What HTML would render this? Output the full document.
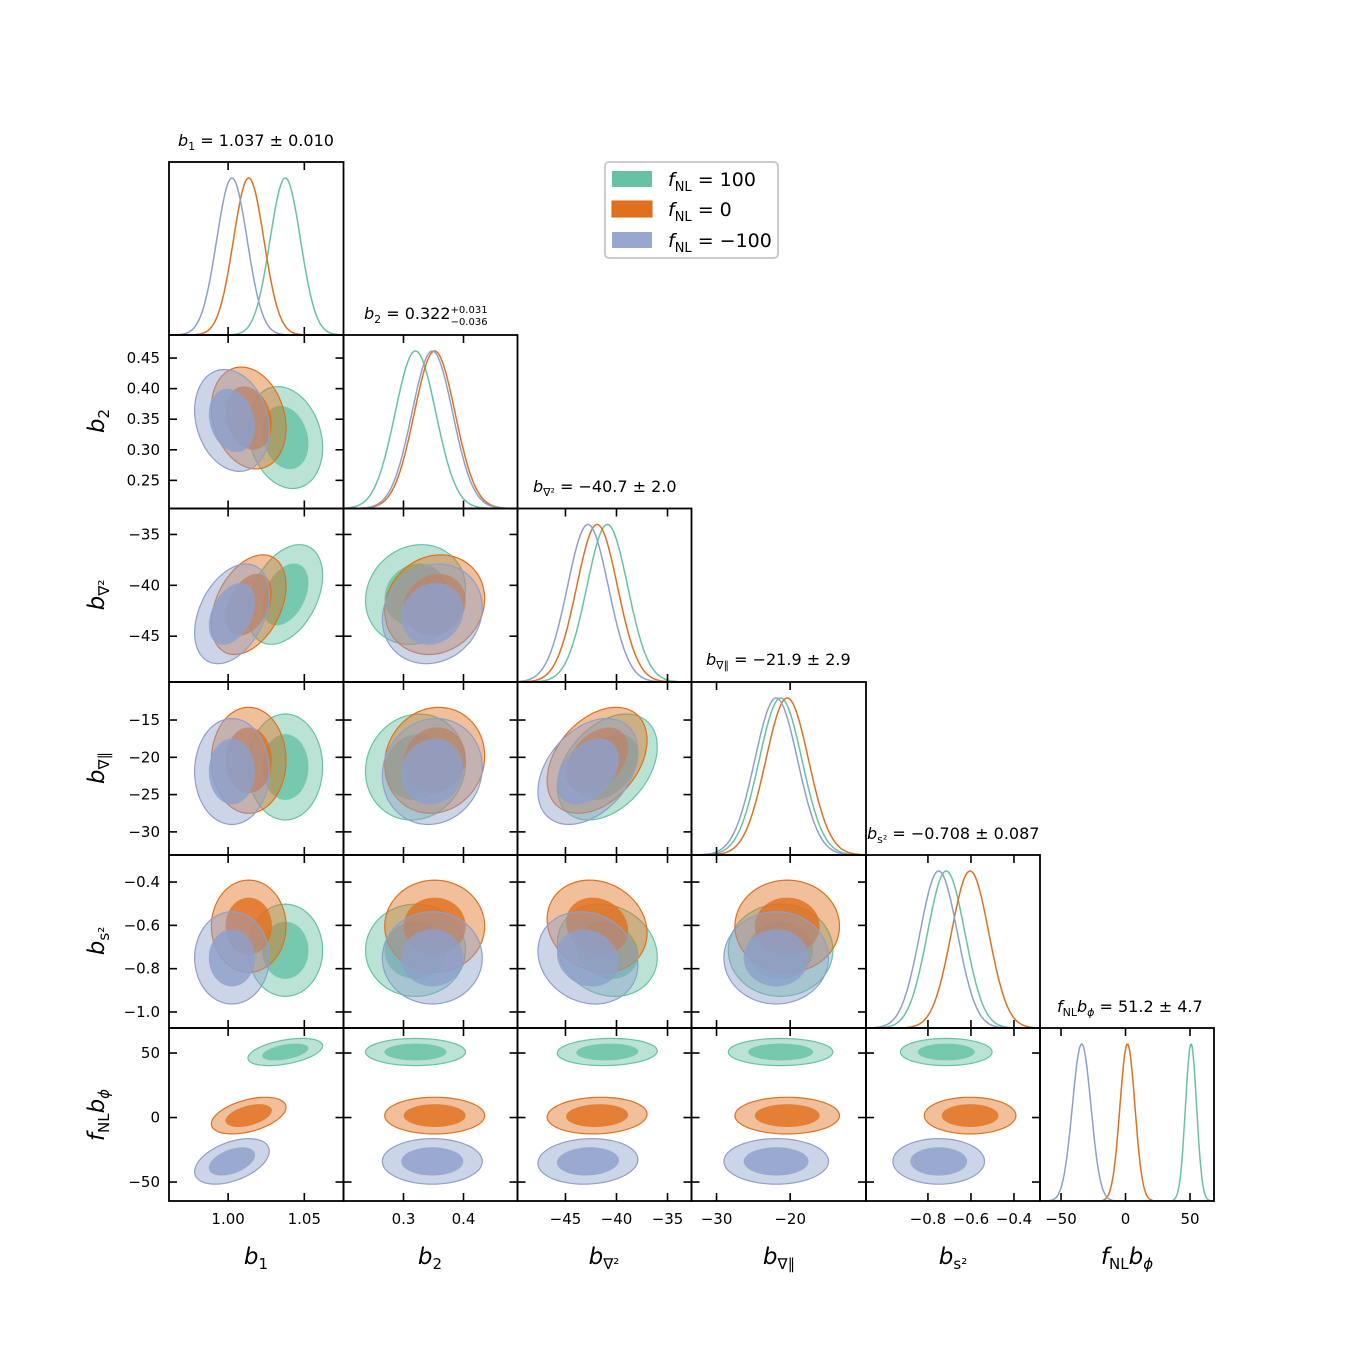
<!DOCTYPE html>
<html><head><meta charset="utf-8"><style>
html,body{margin:0;padding:0;background:#fff}
svg{display:block;font-family:"DejaVu Sans","Liberation Sans",sans-serif}
</style></head><body>
<svg id="c" width="1350" height="1350" viewBox="0 0 1350 1350"></svg>
<script>
// ---- data ----
const paramNames = ["b1","b2","bgrad2","bgradpar","bs2","fnlbphi"];
const seriesNames = ["fNL=100","fNL=0","fNL=-100"];
const meansGreen  = [1.0375, 0.320, -40.9, -21.3, -0.715, 50.8];
const meansOrange = [1.0135, 0.352, -41.9, -20.4, -0.604, 1.5];
const meansBlue   = [1.0025, 0.348, -42.8, -21.9, -0.750, -34.0];
const sigmas = [0.0100, 0.034, 2.0, 2.9, 0.087, 4.7];
const fnlSigmas = [4.3, 5.8, 7.2];
const corr = [
 [1, -0.2, 0.38, 0.0, 0.0, 0.45],
 [-0.2, 1, 0.12, 0.08, 0.0, 0.0],
 [0.38, 0.12, 1, 0.38, -0.15, 0.08],
 [0.0, 0.08, 0.38, 1, 0.0, 0.0],
 [0.0, 0.0, -0.15, 0.0, 1, 0.0],
 [0.45, 0.0, 0.08, 0.0, 0.0, 1]];
const colTicks = [[1.00,1.05],[0.3,0.4],[-45,-40,-35],[-30,-20],[-0.8,-0.6,-0.4],[-50,0,50]];
const colTickLabels = [["1.00","1.05"],["0.3","0.4"],["\u221245","\u221240","\u221235"],["\u221230","\u221220"],["\u22120.8","\u22120.6","\u22120.4"],["\u221250","0","50"]];
const rowTicks = [[],[0.25,0.30,0.35,0.40,0.45],[-45,-40,-35],[-30,-25,-20,-15],[-1.0,-0.8,-0.6,-0.4],[-50,0,50]];
const rowTickLabels = [[],["0.25","0.30","0.35","0.40","0.45"],["\u221245","\u221240","\u221235"],["\u221230","\u221225","\u221220","\u221215"],["\u22121.0","\u22120.8","\u22120.6","\u22120.4"],["\u221250","0","50"]];
// ---- layout ----
const colEdges = [169,343.5,517.5,691.5,866,1040,1214];
const rowEdges = [162,335,508.5,682,855,1028,1201];
const colDomain = [[0.9612,1.0757],[0.2,0.49],[-49.7,-32.65],[-33.4,-9.7],[-1.088,-0.279],[-66.3,68.6]];
const rowDomain = [[0,1],[0.4877,0.204],[-32.45,-49.5],[-9.9,-33.1],[-0.275,-1.074],[69.4,-64.7]];
const colors = ["#66c2a5","#e0701e","#8da0cb"];
const allMeans = [meansGreen, meansOrange, meansBlue];
const NS = "http://www.w3.org/2000/svg";
const svg = document.getElementById("c");
function mk(tag, attrs, parent){const e=document.createElementNS(NS,tag);for(const k in attrs)e.setAttribute(k,attrs[k]);(parent||svg).appendChild(e);return e;}
function xs(c,v){const d=colDomain[c];return colEdges[c]+(v-d[0])/(d[1]-d[0])*(colEdges[c+1]-colEdges[c]);}
function ys(r,v){const d=rowDomain[r];return rowEdges[r]+(v-d[0])/(d[1]-d[0])*(rowEdges[r+1]-rowEdges[r]);}
function sig(s,p){return p===5?fnlSigmas[s]:sigmas[p];}

for(let r=0;r<6;r++){
 for(let c=0;c<=r;c++){
  const x0=colEdges[c],x1=colEdges[c+1],y0=rowEdges[r],y1=rowEdges[r+1];
  const g=mk("g",{});
  
  
  const cid="clip"+r+"_"+c;
  const cp=mk("clipPath",{id:cid},g);mk("rect",{x:x0,y:y0,width:x1-x0,height:y1-y0},cp);
  const inner=mk("g",{"clip-path":"url(#"+cid+")"},g);
  if(r===c){
   for(let s=0;s<3;s++){
    const mu=allMeans[s][c],sd=sig(s,c);let d="";
    for(let i=0;i<=200;i++){const px=x0+(x1-x0)*i/200;const v=colDomain[c][0]+(colDomain[c][1]-colDomain[c][0])*i/200;
     const z=(v-mu)/sd;const py=y1-(y1-y0-16)*Math.exp(-0.5*z*z);d+=(i?"L":"M")+px.toFixed(1)+","+py.toFixed(1);}
    const p=mk("path",{d:d,fill:"none",stroke:colors[s],"stroke-width":1.5},inner);
    
    
   }
  } else {
   for(let s=0;s<3;s++){
    const mx=allMeans[s][c],my=allMeans[s][r],sx=sig(s,c),sy=sig(s,r),rho=corr[c][r];
    [[2.45,0.45],[1.52,0.82]].forEach(([rad,op],k)=>{
     let d="";
     for(let i=0;i<=72;i++){const t=i/72*2*Math.PI;
      const vx=mx+sx*rad*Math.cos(t);const vy=my+sy*rad*(rho*Math.cos(t)+Math.sqrt(1-rho*rho)*Math.sin(t));
      d+=(i?"L":"M")+xs(c,vx).toFixed(1)+","+ys(r,vy).toFixed(1);}
     const p=mk("path",{d:d+"Z",fill:colors[s],"fill-opacity":op,stroke:k===0?colors[s]:"none","stroke-width":1.2},inner);
     
     
    });
   }
  }
  const tl=8;
  colTicks[c].forEach(v=>{const px=xs(c,v);
   mk("line",{x1:px,x2:px,y1:y1,y2:y1-tl,stroke:"#000","stroke-width":1.6},g);
   mk("line",{x1:px,x2:px,y1:y0,y2:y0+tl,stroke:"#000","stroke-width":1.6},g);});
  if(r!==c) rowTicks[r].forEach(v=>{const py=ys(r,v);
   mk("line",{x1:x0,x2:x0+tl,y1:py,y2:py,stroke:"#000","stroke-width":1.6},g);
   mk("line",{x1:x1,x2:x1-tl,y1:py,y2:py,stroke:"#000","stroke-width":1.6},g);});
  const fr=mk("rect",{x:x0,y:y0,width:x1-x0,height:y1-y0,fill:"none",stroke:"#000","stroke-width":1.8},g);
  
  
 }
}
for(let c=0;c<6;c++) colTicks[c].forEach((v,i)=>{
 const t=mk("text",{x:xs(c,v),y:1224,"font-size":15,"text-anchor":"middle"});t.textContent=colTickLabels[c][i];
 
 });
for(let r=1;r<6;r++) rowTicks[r].forEach((v,i)=>{
 const t=mk("text",{x:160,y:ys(r,v)+5,"font-size":15,"text-anchor":"end"});t.textContent=rowTickLabels[r][i];
 
 });
</script>
<div style="position:absolute;left:0;top:0;width:1350px;height:1350px;pointer-events:none">
<svg width="1350" height="1350" style="font-family:'DejaVu Sans','Liberation Sans',sans-serif">
 <text x="178" y="146" font-size="16"><tspan font-style="italic">b</tspan><tspan font-size="11" dy="4">1</tspan><tspan dy="-4"> = 1.037 ± 0.010</tspan></text>
 <text x="364" y="319" font-size="16"><tspan font-style="italic">b</tspan><tspan font-size="11" dy="4">2</tspan><tspan dy="-4"> = 0.322</tspan><tspan font-size="10" dy="-6">+0.031</tspan><tspan font-size="10" dx="-37" dy="12">−0.036</tspan></text>
 <text x="533" y="492" font-size="16"><tspan font-style="italic">b</tspan><tspan font-size="11" dy="4">∇²</tspan><tspan dy="-4"> = −40.7 ± 2.0</tspan></text>
 <text x="706" y="665" font-size="16"><tspan font-style="italic">b</tspan><tspan font-size="11" dy="4">∇∥</tspan><tspan dy="-4"> = −21.9 ± 2.9</tspan></text>
 <text x="867" y="839" font-size="16"><tspan font-style="italic">b</tspan><tspan font-size="11" dy="4">s²</tspan><tspan dy="-4"> = −0.708 ± 0.087</tspan></text>
 <text x="1057" y="1012" font-size="16"><tspan font-style="italic">f</tspan><tspan font-size="11" dy="4">NL</tspan><tspan dy="-4" font-style="italic">b</tspan><tspan font-size="11" dy="4" font-style="italic">ϕ</tspan><tspan dy="-4"> = 51.2 ± 4.7</tspan></text>
 <g font-size="23" text-anchor="middle">
  <text x="256" y="1264"><tspan font-style="italic">b</tspan><tspan font-size="15" dy="5">1</tspan></text>
  <text x="430" y="1264"><tspan font-style="italic">b</tspan><tspan font-size="15" dy="5">2</tspan></text>
  <text x="604" y="1264"><tspan font-style="italic">b</tspan><tspan font-size="15" dy="5">∇²</tspan></text>
  <text x="779" y="1264"><tspan font-style="italic">b</tspan><tspan font-size="15" dy="5">∇∥</tspan></text>
  <text x="953" y="1264"><tspan font-style="italic">b</tspan><tspan font-size="15" dy="5">s²</tspan></text>
  <text x="1127" y="1264"><tspan font-style="italic">f</tspan><tspan font-size="15" dy="5">NL</tspan><tspan font-style="italic" dy="-5">b</tspan><tspan font-size="15" dy="5" font-style="italic">ϕ</tspan></text>
 </g>
 <g font-size="23" text-anchor="middle">
  <text transform="translate(104,421) rotate(-90)"><tspan font-style="italic">b</tspan><tspan font-size="15" dy="5">2</tspan></text>
  <text transform="translate(104,595) rotate(-90)"><tspan font-style="italic">b</tspan><tspan font-size="15" dy="5">∇²</tspan></text>
  <text transform="translate(104,768) rotate(-90)"><tspan font-style="italic">b</tspan><tspan font-size="15" dy="5">∇∥</tspan></text>
  <text transform="translate(104,941) rotate(-90)"><tspan font-style="italic">b</tspan><tspan font-size="15" dy="5">s²</tspan></text>
  <text transform="translate(104,1115) rotate(-90)"><tspan font-style="italic">f</tspan><tspan font-size="15" dy="5">NL</tspan><tspan font-style="italic" dy="-5">b</tspan><tspan font-size="15" dy="5" font-style="italic">ϕ</tspan></text>
 </g>
 <g>
  <rect x="605" y="162" width="173" height="96" rx="4" fill="#fff" stroke="#ccc" stroke-width="2"/>
  <rect x="612" y="171" width="40" height="16" fill="#66c2a5"/>
  <rect x="612" y="201" width="40" height="16" fill="#e0701e" stroke="#d9650f"/>
  <rect x="612" y="232" width="40" height="16" fill="#97a8d0"/>
  <text x="668" y="186" font-size="19"><tspan font-style="italic">f</tspan><tspan font-size="13" dy="5">NL</tspan><tspan dy="-5"> = 100</tspan></text>
  <text x="668" y="216" font-size="19"><tspan font-style="italic">f</tspan><tspan font-size="13" dy="5">NL</tspan><tspan dy="-5"> = 0</tspan></text>
  <text x="668" y="247" font-size="19"><tspan font-style="italic">f</tspan><tspan font-size="13" dy="5">NL</tspan><tspan dy="-5"> = −100</tspan></text>
 </g>
</svg>
</div>
</body></html>
